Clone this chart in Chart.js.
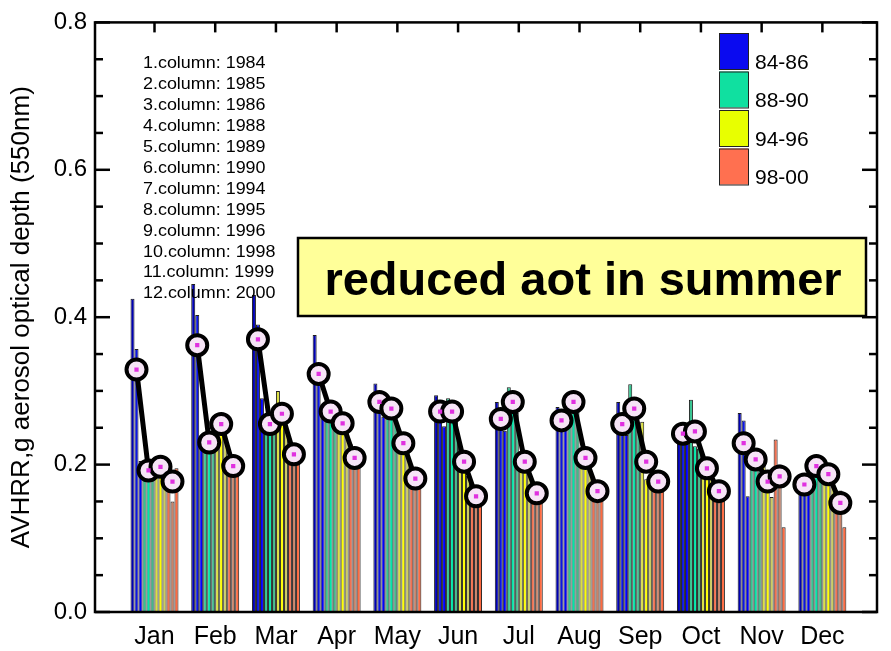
<!DOCTYPE html>
<html>
<head>
<meta charset="utf-8">
<script src="https://cdn.jsdelivr.net/npm/chart.js@4.4.0/dist/chart.umd.min.js"></script>
<style>
  body { margin: 0; background: #fff; }
  #wrap { width: 891px; height: 651px; }
</style>
</head>
<body>
<div id="wrap"><canvas id="aotChart" width="891" height="651"></canvas></div>
<script>
var months = ["Jan", "Feb", "Mar", "Apr", "May", "Jun", "Jul", "Aug", "Sep", "Oct", "Nov", "Dec"];
var years = ["1984", "1985", "1986", "1988", "1989", "1990", "1994", "1995", "1996", "1998", "1999", "2000"];

// monthly AOT per year (one column per year)
var aot1984 = [0.425, 0.445, 0.430, 0.376, 0.310, 0.294, 0.285, 0.278, 0.285, 0.245, 0.270, 0.175];
var aot1985 = [0.357, 0.403, 0.390, 0.330, 0.280, 0.270, 0.255, 0.255, 0.240, 0.240, 0.260, 0.170];
var aot1986 = [0.205, 0.238, 0.290, 0.263, 0.265, 0.252, 0.246, 0.247, 0.240, 0.240, 0.157, 0.174];
var aot1988 = [0.195, 0.235, 0.260, 0.275, 0.280, 0.290, 0.305, 0.290, 0.309, 0.288, 0.210, 0.200];
var aot1989 = [0.190, 0.230, 0.250, 0.270, 0.275, 0.265, 0.280, 0.285, 0.270, 0.225, 0.205, 0.200];
var aot1990 = [0.190, 0.225, 0.255, 0.270, 0.273, 0.260, 0.270, 0.280, 0.250, 0.222, 0.206, 0.200];
var aot1994 = [0.200, 0.250, 0.300, 0.260, 0.235, 0.227, 0.210, 0.215, 0.258, 0.200, 0.210, 0.190];
var aot1995 = [0.195, 0.265, 0.255, 0.255, 0.225, 0.200, 0.200, 0.205, 0.180, 0.190, 0.165, 0.185];
var aot1996 = [0.200, 0.250, 0.250, 0.253, 0.227, 0.185, 0.202, 0.207, 0.175, 0.195, 0.156, 0.186];
var aot1998 = [0.185, 0.200, 0.215, 0.228, 0.180, 0.160, 0.165, 0.165, 0.180, 0.165, 0.234, 0.165];
var aot1999 = [0.150, 0.195, 0.210, 0.200, 0.185, 0.155, 0.160, 0.163, 0.175, 0.160, 0.200, 0.165];
var aot2000 = [0.195, 0.200, 0.217, 0.200, 0.178, 0.157, 0.158, 0.164, 0.176, 0.167, 0.115, 0.115];
var yearSeries = [aot1984, aot1985, aot1986, aot1988, aot1989, aot1990,
                  aot1994, aot1995, aot1996, aot1998, aot1999, aot2000];

// period means (the circles)
var mean8486 = [0.329, 0.362, 0.370, 0.323, 0.285, 0.272, 0.262, 0.260, 0.255, 0.242, 0.229, 0.173];
var mean8890 = [0.192, 0.230, 0.255, 0.272, 0.276, 0.272, 0.285, 0.285, 0.276, 0.245, 0.207, 0.198];
var mean9496 = [0.197, 0.255, 0.269, 0.256, 0.229, 0.204, 0.204, 0.209, 0.204, 0.195, 0.177, 0.187];
var mean9800 = [0.177, 0.198, 0.214, 0.209, 0.181, 0.157, 0.161, 0.164, 0.177, 0.164, 0.184, 0.148];
var periodMeans = [mean8486, mean8890, mean9496, mean9800];

var periods = ["84-86", "88-90", "94-96", "98-00"];
var yTicks = [0, 0.2, 0.4, 0.6, 0.8];
var yMinorTicks = [0.05, 0.1, 0.15, 0.25, 0.3, 0.35, 0.45, 0.5, 0.55, 0.65, 0.7, 0.75];
var noteText = "reduced aot in summer";
var yTitle = "AVHRR,g aerosol optical depth (550nm)";

var yearColors = ["#0000b4", "#0a14e6", "#0000ff",
                  "#34c490", "#00e6a8", "#44b88a",
                  "#dce040", "#ffff00", "#cccc60",
                  "#f27050", "#c98268", "#ff6a40"];
var periodColors = ["#0a0af0", "#10e0a0", "#e8ff00", "#ff7050"];

var groupPct = 0.79;
var FONT = "'Liberation Sans', Arial, Helvetica, sans-serif";

function groupOffset(g) {
    // centre of the 3-bar block for period g inside a month
    return (-0.5 + (3 * g + 1.5) / years.length) * groupPct;
}

var barSets = yearSeries.map(function (vals, i) {
    return {
        type: 'bar',
        label: years[i],
        data: vals.map(function (v, m) { return { x: m, y: v }; }),
        backgroundColor: yearColors[i],
        borderColor: '#1e1e1e',
        borderWidth: 1,
        barPercentage: 1.0,
        categoryPercentage: groupPct,
        order: 2
    };
});

var linePts = [];
months.forEach(function (name, m) {
    periodMeans.forEach(function (arr, g) {
        linePts.push({ x: m + groupOffset(g), y: arr[m] });
    });
    linePts.push({ x: m + 0.5, y: null });
});

var lineSet = {
    type: 'line',
    label: 'period mean',
    data: linePts,
    borderColor: '#000',
    borderWidth: 5,
    spanGaps: false,
    pointRadius: 10,
    pointBorderWidth: 4,
    pointBorderColor: '#000',
    pointBackgroundColor: '#f6e4f6',
    order: 1
};
var dotSet = {
    type: 'line',
    label: 'centre',
    data: linePts,
    showLine: false,
    pointStyle: 'rect',
    pointRadius: 3,
    pointBorderWidth: 0,
    pointBackgroundColor: '#e030e0',
    order: 0
};

function seg(ctx, x1, y1, x2, y2) {
    ctx.beginPath();
    ctx.moveTo(x1, y1);
    ctx.lineTo(x2, y2);
    ctx.stroke();
}

var framePlugin = {
    id: 'frame',
    afterDraw: function (chart) {
        var ctx = chart.ctx, a = chart.chartArea;
        var xs = chart.scales.x, ys = chart.scales.y;
        ctx.save();
        ctx.strokeStyle = '#000';
        ctx.lineWidth = 2.5;
        ctx.strokeRect(a.left, a.top, a.right - a.left, a.bottom - a.top);
        yTicks.forEach(function (v) {
            var py = ys.getPixelForValue(v);
            seg(ctx, a.left, py, a.left + 15, py);
            seg(ctx, a.right, py, a.right - 15, py);
        });
        yMinorTicks.forEach(function (v) {
            var py = ys.getPixelForValue(v);
            seg(ctx, a.left, py, a.left + 8, py);
            seg(ctx, a.right, py, a.right - 8, py);
        });
        months.forEach(function (name, m) {
            var px = xs.getPixelForValue(m);
            seg(ctx, px, a.top, px, a.top + 10);
        });

        // column list
        ctx.fillStyle = '#000';
        ctx.font = '16px ' + FONT;
        ctx.textBaseline = 'middle';
        ctx.textAlign = 'left';
        years.forEach(function (yr, i) {
            ctx.save();
            ctx.translate(143, 64 + i * 20.9);
            ctx.scale(1.12, 1);
            ctx.fillText((i + 1) + ".column: " + yr, 0, 0);
            ctx.restore();
        });

        // period legend
        periods.forEach(function (p, i) {
            var top = 33 + i * 38.5;
            ctx.fillStyle = periodColors[i];
            ctx.fillRect(719, top, 29, 36);
            ctx.strokeStyle = '#222';
            ctx.lineWidth = 1;
            ctx.strokeRect(719.5, top + 0.5, 29, 36);
            ctx.fillStyle = '#000';
            ctx.font = '21px ' + FONT;
            ctx.fillText(p, 755, top + 30);
        });

        // note box
        ctx.fillStyle = '#ffff99';
        ctx.fillRect(298, 238, 568, 78);
        ctx.strokeStyle = '#000';
        ctx.lineWidth = 2.5;
        ctx.strokeRect(298, 238, 568, 78);
        ctx.fillStyle = '#000';
        ctx.font = 'bold 47px ' + FONT;
        ctx.textAlign = 'center';
        ctx.textBaseline = 'alphabetic';
        ctx.fillText(noteText, 583, 295);
        ctx.restore();
    }
};

var ctxA = document.getElementById("aotChart").getContext('2d');
var aotChart = new Chart(ctxA, {
    type: 'bar',
    data: { datasets: barSets.concat([lineSet, dotSet]) },
    options: {
        responsive: false,
        animation: false,
        layout: { padding: { top: 15, right: 7, left: 0, bottom: 0 } },
        plugins: {
            legend: { display: false },
            tooltip: { enabled: false }
        },
        scales: {
            x: {
                type: 'linear',
                min: -0.98,
                max: 11.9,
                offset: false,
                grid: { display: false, drawTicks: false },
                border: { display: false },
                afterBuildTicks: function (s) {
                    s.ticks = months.map(function (n, i) { return { value: i }; });
                },
                afterFit: function (s) { s.height = 39; },
                ticks: {
                    autoSkip: false,
                    maxRotation: 0,
                    padding: 10,
                    color: '#000',
                    font: { family: FONT, size: 25 },
                    callback: function (v) { return months[v]; }
                }
            },
            y: {
                min: 0,
                max: 0.8,
                grid: { display: false, drawTicks: false },
                border: { display: false },
                afterBuildTicks: function (s) {
                    s.ticks = yTicks.map(function (v) { return { value: v }; });
                },
                afterFit: function (s) { s.width = 95; },
                ticks: {
                    padding: 8,
                    color: '#000',
                    font: { family: FONT, size: 24 },
                    callback: function (v) { return v.toFixed(1); }
                },
                title: {
                    display: true,
                    text: yTitle,
                    color: '#000',
                    padding: { top: 6, bottom: 0 },
                    font: { family: FONT, size: 26 }
                }
            }
        }
    },
    plugins: [framePlugin]
});
</script>
</body>
</html>
